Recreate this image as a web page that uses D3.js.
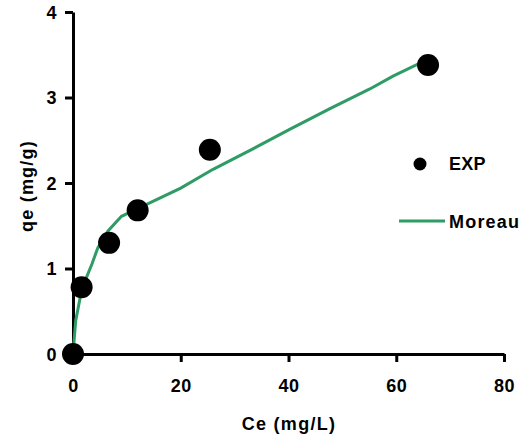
<!DOCTYPE html>
<html>
<head>
<meta charset="utf-8">
<script src="https://cdn.jsdelivr.net/npm/d3@7"></script>
<style>
  body { margin: 0; background: #fff; }
  svg { display: block; font-family: "Liberation Sans", Arial, sans-serif; font-weight: bold; }
</style>
</head>
<body>
<svg id="chart" width="531" height="438"></svg>
<script>
// experimental points
const expCe = [0, 1.6, 6.7, 12.0, 25.4, 65.9]
const expQe = [0, 0.78, 1.30, 1.68, 2.39, 3.38]

// Moreau fit
const moreauCe = [0, 0.5, 1.3, 2.2, 3.5, 4.6, 6.5, 9.0, 12.0, 20.0, 26.0, 33.4, 40.3, 47.7, 55.1, 59.4, 64.0, 66.0]
const moreauQe = [0, 0.39, 0.65, 0.85, 1.05, 1.24, 1.44, 1.61, 1.70, 1.94, 2.16, 2.40, 2.63, 2.87, 3.10, 3.25, 3.39, 3.42]

const xTicks = [0, 20, 40, 60, 80]
const yTicks = [0, 1, 2, 3, 4]

const green = "#2f9b65"

var svg = d3.select("#chart")

var x = d3.scaleLinear().domain([0, 80]).range([73, 504])
var y = d3.scaleLinear().domain([0, 4]).range([354, 12])

// axes
var xAxis = svg.append("g")
    .attr("transform", "translate(0," + y(0) + ")")
    .call(d3.axisBottom(x).tickValues(xTicks).tickFormat(d3.format("d"))
        .tickSize(8).tickPadding(17).tickSizeOuter(0))
var yAxis = svg.append("g")
    .attr("transform", "translate(" + x(0) + ",0)")
    .call(d3.axisLeft(y).tickValues(yTicks).tickFormat(d3.format("d"))
        .tickSize(8).tickPadding(8).tickSizeOuter(0))

svg.selectAll(".domain, .tick line")
    .attr("stroke", "#000")
    .attr("stroke-width", 3)
svg.selectAll(".tick text")
    .attr("fill", "#000")
    .attr("font-size", 18)
    .attr("font-weight", "bold")
    .attr("font-family", "'Liberation Sans', Arial, sans-serif")
    .attr("letter-spacing", 0.5)
yAxis.selectAll(".tick text").attr("dy", "0.36em")

// axis titles
svg.append("text")
    .attr("x", 289)
    .attr("y", 430)
    .attr("text-anchor", "middle")
    .attr("font-size", 18)
    .attr("letter-spacing", 1.3)
    .text("Ce (mg/L)")

svg.append("text")
    .attr("transform", "translate(33,186) rotate(-90)")
    .attr("text-anchor", "middle")
    .attr("font-size", 18)
    .attr("letter-spacing", 1.2)
    .text("qe (mg/g)")

// fit line
var line = d3.line()
    .x(function (d, i) { return x(moreauCe[i]) })
    .y(function (d) { return y(d) })

svg.append("path")
    .datum(moreauQe)
    .attr("fill", "none")
    .attr("stroke", green)
    .attr("stroke-width", 3)
    .attr("d", line)

// points
svg.append("g")
    .selectAll("circle")
    .data(expQe)
    .enter().append("circle")
    .attr("cx", function (d, i) { return x(expCe[i]) })
    .attr("cy", function (d) { return y(d) })
    .attr("r", 11)
    .attr("fill", "#000")

// legend
svg.append("circle")
    .attr("cx", 420)
    .attr("cy", 164)
    .attr("r", 6.5)
    .attr("fill", "#000")
svg.append("text")
    .attr("x", 449)
    .attr("y", 170)
    .attr("font-size", 18)
    .attr("letter-spacing", 0.3)
    .text("EXP")

svg.append("line")
    .attr("x1", 399)
    .attr("x2", 445)
    .attr("y1", 221)
    .attr("y2", 221)
    .attr("stroke", green)
    .attr("stroke-width", 3)
svg.append("text")
    .attr("x", 449)
    .attr("y", 228)
    .attr("font-size", 18)
    .attr("letter-spacing", 1.2)
    .text("Moreau")
</script>
</body>
</html>
